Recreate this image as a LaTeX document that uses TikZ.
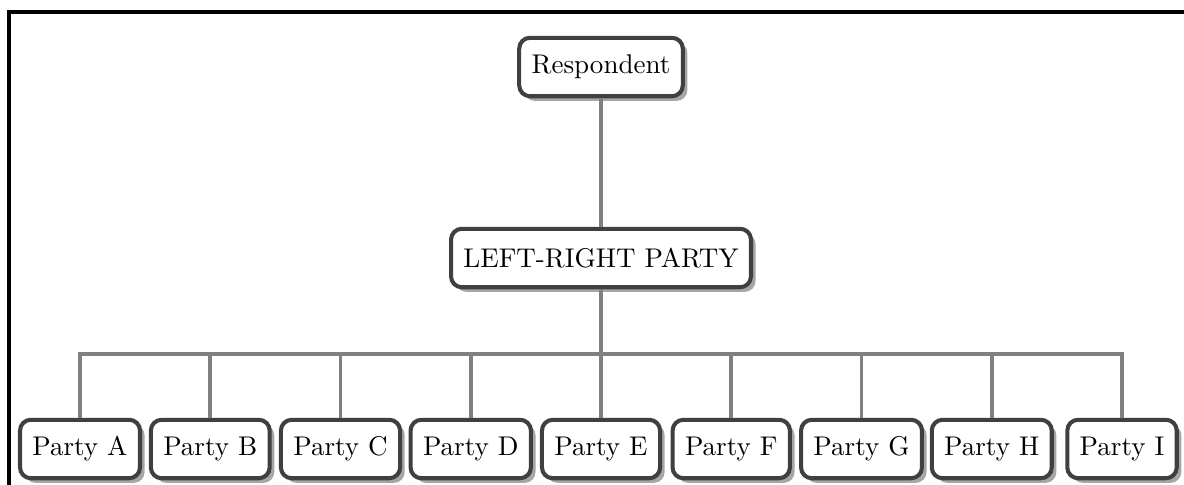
\documentclass[tikz,border=0pt]{standalone}
\usetikzlibrary{shadows}

\tikzset{
  partybox/.style={draw=black!75, line width=1.5pt, fill=white, rounded corners=4pt,
    inner xsep=4.6pt, minimum height=0.76cm,
    drop shadow={shadow xshift=0.06cm, shadow yshift=-0.06cm, fill=black!35, opacity=1}},
  link/.style={draw=black!50, line width=1.4pt}
}

\begin{document}
\begin{tikzpicture}[x=0.013cm, y=-0.013cm]
          \useasboundingbox (0,0) rectangle (1184,484);

          % cropped frame
          \draw [line width=1.5pt, line cap=rect] (9,484) -- (9,12) -- (1184,12);

          \node[partybox] (resp) at (601,67) {Respondent};
          \node[partybox] (lr) at (601,258) {LEFT-RIGHT PARTY};

          \foreach \p [count=\i from 0] in {A,B,C,D,E,F,G,H,I}
          {
            \node[partybox] (party\p) at ({80 + 130.25*\i},449) {Party \p};
          }

          \coordinate (bus) at (601,354);

          \draw [link] (resp) -- (lr);
          \draw [link] (lr) -- (bus);
          \draw [link] (partyA.north) |- (bus) -| (partyI.north);
          \foreach \p in {B,C,D,E,F,G,H}
            \draw [link] (bus -| party\p.north) -- (party\p.north);

        \end{tikzpicture}
\end{document}
